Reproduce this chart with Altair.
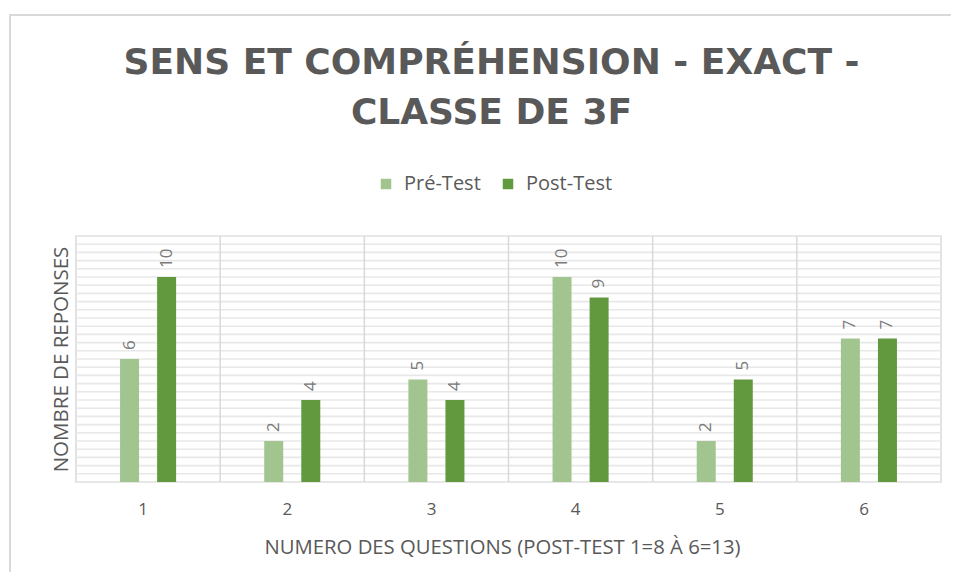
import altair as alt
import pandas as pd

questions = ["1", "2", "3", "4", "5", "6"]
pre_test = [6, 2, 5, 10, 2, 7]
post_test = [10, 4, 4, 9, 5, 7]
series_names = ["Pré-Test", "Post-Test"]
series_colors = ["#A2C590", "#62993E"]
separators = ["2", "3", "4", "5", "6"]
grid_values = [round(i * 0.4, 1) for i in range(31)]

rows = []
for q, a, b in zip(questions, pre_test, post_test):
    rows.append({"q": q, "serie": series_names[0], "v": a})
    rows.append({"q": q, "serie": series_names[1], "v": b})
df = pd.DataFrame(rows)
sep_df = pd.DataFrame({"q": separators})
grid_df = pd.DataFrame({"g": grid_values})

GRAY = "#595959"
FONT = "Open Sans"

xscale = alt.Scale(domain=questions, paddingInner=0, paddingOuter=0)
yscale = alt.Scale(domain=[0, 12], nice=False)
offscale = alt.Scale(domain=series_names, paddingInner=0.11, paddingOuter=1)

base = alt.Chart(df)

bars = base.mark_bar(width=19).encode(
    x=alt.X("q:N", scale=xscale, sort=questions,
            axis=alt.Axis(title="NUMERO DES QUESTIONS (POST-TEST 1=8 À 6=13)",
                          labelAngle=0, ticks=False, domain=False, grid=False,
                          labelPadding=27, titlePadding=20,
                          labelFontSize=17, titleFontSize=20.3,
                          labelFont=FONT, titleFont=FONT,
                          labelColor=GRAY, titleColor=GRAY,
                          titleX=426, titleAlign="center",
                          titleFontWeight="normal")),
    xOffset=alt.XOffset("serie:N", scale=offscale, sort=series_names),
    y=alt.Y("v:Q", scale=yscale,
            axis=alt.Axis(title="NOMBRE DE REPONSES", labels=False, ticks=False,
                          domain=False, grid=False,
                          titleFontSize=20.5, titleFont=FONT, titleColor=GRAY,
                          titleFontWeight="normal", titlePadding=5)),
    color=alt.Color("serie:N", sort=series_names,
                    scale=alt.Scale(domain=series_names, range=series_colors),
                    legend=alt.Legend(title=None, orient="none", direction="horizontal",
                                      legendX=300, legendY=-62,
                                      symbolType="square", symbolSize=110,
                                      symbolStrokeWidth=0,
                                      labelFont=FONT, labelFontSize=20,
                                      labelColor=GRAY, labelOffset=8,
                                      columnPadding=17)),
)

labels = base.mark_text(angle=270, align="left", baseline="middle", dx=9,
                        font=FONT, fontSize=17, color="#7a7a7a").encode(
    x=alt.X("q:N", scale=xscale, sort=questions),
    xOffset=alt.XOffset("serie:N", scale=offscale, sort=series_names),
    y=alt.Y("v:Q", scale=yscale),
    text=alt.Text("v:Q"),
)

hgrid = alt.Chart(grid_df).mark_rule(color="#e8e8e8", strokeWidth=1.6).encode(
    y=alt.Y("g:Q", scale=yscale),
)

seps = alt.Chart(sep_df).mark_rule(color="#d9d9d9", strokeWidth=1.5).encode(
    x=alt.X("q:N", scale=xscale, sort=questions, bandPosition=0),
)

frame = alt.Chart(sep_df).mark_rect(fill=None, stroke="#d9d9d9", strokeWidth=1.5).encode(
    x=alt.value(-66), x2=alt.value(930), y=alt.value(-221), y2=alt.value(420)
)

chart = alt.layer(frame, hgrid, seps, bars, labels).properties(
    width=865,
    height=246,
    autosize="none",
    padding={"left": 68, "top": 228, "right": 10, "bottom": 90},
    title=alt.TitleParams(
        text=["SENS ET COMPRÉHENSION - EXACT -", "CLASSE DE 3F"],
        font="DejaVu Sans", fontSize=36, fontWeight="bold", color=GRAY,
        lineHeight=50, anchor="middle", dx=-17, offset=-118,
    ),
).configure_view(stroke="#d9d9d9", strokeWidth=1.5)

chart.save("out.html", embed_options={"renderer": "svg", "actions": False})
